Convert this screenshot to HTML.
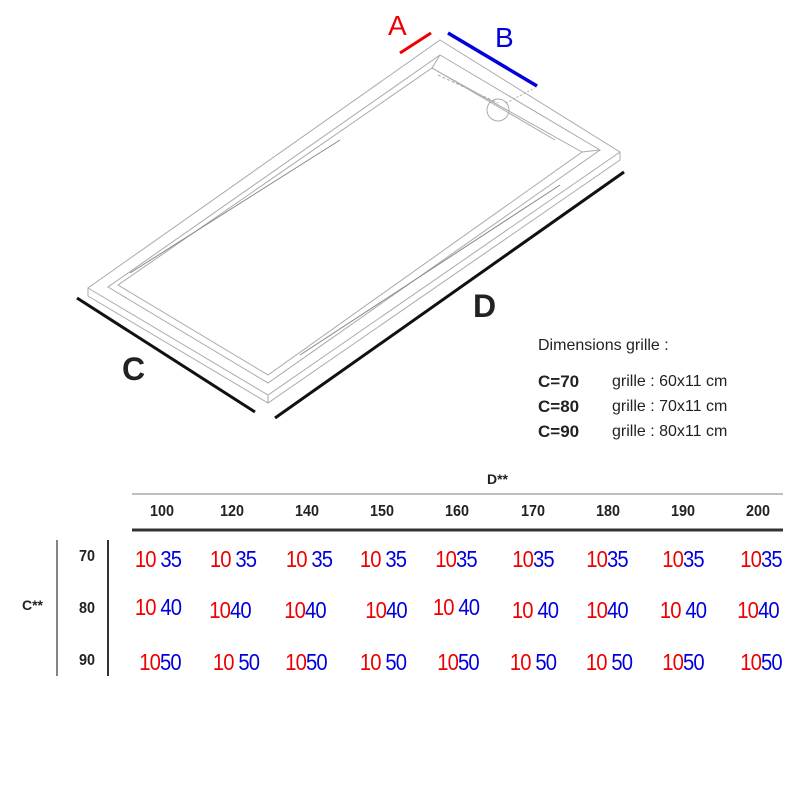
<!DOCTYPE html>
<html><head><style>
body{margin:0;background:#fff}
#c{position:relative;width:800px;height:800px;overflow:hidden;font-family:"Liberation Sans",sans-serif}
.t{position:absolute;white-space:nowrap;line-height:1}
.v{position:absolute;font-size:23px;letter-spacing:-1px;transform:translateX(-50%) scaleX(0.88);white-space:nowrap}
.r{color:#e00}.b{color:#00d}
.h{position:absolute;font-size:16px;font-weight:bold;color:#222;transform:translateX(-50%) scaleX(0.9)}
</style></head><body><div id="c">
<svg width="800" height="800" style="position:absolute;left:0;top:0">
<g fill="none" stroke="#aaa" stroke-width="1">
<polygon points="440,40 620,152 268,395 88,288"/>
<polyline points="88,288 88,296 268,403 620,160 620,152"/>
<line x1="268" y1="395" x2="268" y2="403"/>
<polygon points="440,55 600,150 268,383 108,287"/>
<polygon points="432,68 582,152 268,375 118,285"/>
<line x1="440" y1="55" x2="432" y2="68"/>
<line x1="600" y1="150" x2="582" y2="152"/>
<line x1="432" y1="68" x2="555" y2="140"/>
<line x1="438" y1="75" x2="498" y2="103" stroke-dasharray="3,2"/>
<line x1="506" y1="103" x2="535" y2="88" stroke-dasharray="2,2"/>
<circle cx="498" cy="110" r="11"/>
<line x1="130" y1="273" x2="340" y2="140" stroke="#888"/>
<line x1="300" y1="355" x2="560" y2="185" stroke="#888"/>
</g>
<line x1="77" y1="298" x2="255" y2="412" stroke="#111" stroke-width="3"/>
<line x1="275" y1="418" x2="624" y2="172" stroke="#111" stroke-width="3"/>
<line x1="400" y1="53" x2="431" y2="33" stroke="#e00" stroke-width="3"/>
<line x1="448" y1="33" x2="537" y2="86" stroke="#00d" stroke-width="3.5"/>
<line x1="132" y1="494" x2="783" y2="494" stroke="#aaa" stroke-width="1.5"/>
<line x1="132" y1="530" x2="783" y2="530" stroke="#333" stroke-width="3"/>
<line x1="57" y1="540" x2="57" y2="676" stroke="#333" stroke-width="1.2"/>
<line x1="108" y1="540" x2="108" y2="676" stroke="#333" stroke-width="2"/>
</svg>
<div class="t" style="left:388px;top:12px;font-size:28px;color:#e00">A</div>
<div class="t" style="left:495px;top:24px;font-size:28px;color:#00d">B</div>
<div class="t" style="left:473px;top:290px;font-size:32px;font-weight:bold;color:#222">D</div>
<div class="t" style="left:122px;top:353px;font-size:32px;font-weight:bold;color:#222">C</div>
<div class="t" style="left:538px;top:338px;font-size:16px;color:#222">Dimensions grille :</div>
<div class="t" style="left:538px;top:373px;font-size:17px;font-weight:bold;color:#222">C=70</div>
<div class="t" style="left:612px;top:374px;font-size:16px;color:#222">grille : 60x11 cm</div>
<div class="t" style="left:538px;top:398px;font-size:17px;font-weight:bold;color:#222">C=80</div>
<div class="t" style="left:612px;top:399px;font-size:16px;color:#222">grille : 70x11 cm</div>
<div class="t" style="left:538px;top:423px;font-size:17px;font-weight:bold;color:#222">C=90</div>
<div class="t" style="left:612px;top:424px;font-size:16px;color:#222">grille : 80x11 cm</div>
<div class="t" style="left:487px;top:472px;font-size:14px;font-weight:bold;color:#222">D**</div>
<div class="t" style="left:22px;top:598px;font-size:14px;font-weight:bold;color:#222">C**</div>
<div class="h" style="left:87px;top:548px">70</div>
<div class="h" style="left:87px;top:600px">80</div>
<div class="h" style="left:87px;top:652px">90</div>
<div class="h" style="left:162px;top:503px">100</div>
<div class="h" style="left:232px;top:503px">120</div>
<div class="h" style="left:307px;top:503px">140</div>
<div class="h" style="left:382px;top:503px">150</div>
<div class="h" style="left:457px;top:503px">160</div>
<div class="h" style="left:533px;top:503px">170</div>
<div class="h" style="left:608px;top:503px">180</div>
<div class="h" style="left:683px;top:503px">190</div>
<div class="h" style="left:758px;top:503px">200</div>
<div class="v" style="left:158px;top:546px"><span class="r">10</span> <span class="b">35</span></div>
<div class="v" style="left:233px;top:546px"><span class="r">10</span> <span class="b">35</span></div>
<div class="v" style="left:309px;top:546px"><span class="r">10</span> <span class="b">35</span></div>
<div class="v" style="left:383px;top:546px"><span class="r">10</span> <span class="b">35</span></div>
<div class="v" style="left:456px;top:546px"><span class="r">10</span><span class="b">35</span></div>
<div class="v" style="left:533px;top:546px"><span class="r">10</span><span class="b">35</span></div>
<div class="v" style="left:607px;top:546px"><span class="r">10</span><span class="b">35</span></div>
<div class="v" style="left:683px;top:546px"><span class="r">10</span><span class="b">35</span></div>
<div class="v" style="left:761px;top:546px"><span class="r">10</span><span class="b">35</span></div>
<div class="v" style="left:158px;top:594px"><span class="r">10</span> <span class="b">40</span></div>
<div class="v" style="left:230px;top:597px"><span class="r">10</span><span class="b">40</span></div>
<div class="v" style="left:305px;top:597px"><span class="r">10</span><span class="b">40</span></div>
<div class="v" style="left:386px;top:597px"><span class="r">10</span><span class="b">40</span></div>
<div class="v" style="left:456px;top:594px"><span class="r">10</span> <span class="b">40</span></div>
<div class="v" style="left:535px;top:597px"><span class="r">10</span> <span class="b">40</span></div>
<div class="v" style="left:607px;top:597px"><span class="r">10</span><span class="b">40</span></div>
<div class="v" style="left:683px;top:597px"><span class="r">10</span> <span class="b">40</span></div>
<div class="v" style="left:758px;top:597px"><span class="r">10</span><span class="b">40</span></div>
<div class="v" style="left:160px;top:649px"><span class="r">10</span><span class="b">50</span></div>
<div class="v" style="left:236px;top:649px"><span class="r">10</span> <span class="b">50</span></div>
<div class="v" style="left:306px;top:649px"><span class="r">10</span><span class="b">50</span></div>
<div class="v" style="left:383px;top:649px"><span class="r">10</span> <span class="b">50</span></div>
<div class="v" style="left:458px;top:649px"><span class="r">10</span><span class="b">50</span></div>
<div class="v" style="left:533px;top:649px"><span class="r">10</span> <span class="b">50</span></div>
<div class="v" style="left:609px;top:649px"><span class="r">10</span> <span class="b">50</span></div>
<div class="v" style="left:683px;top:649px"><span class="r">10</span><span class="b">50</span></div>
<div class="v" style="left:761px;top:649px"><span class="r">10</span><span class="b">50</span></div>
</div></body></html>
